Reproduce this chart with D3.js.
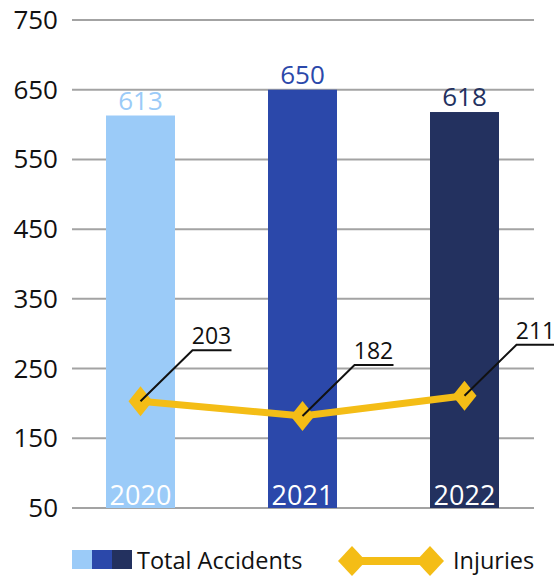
<!DOCTYPE html>
<html>
<head>
<meta charset="utf-8">
<script src="https://cdn.jsdelivr.net/npm/d3@7"></script>
<style>
  body { margin: 0; background: #fff; }
  text { font-family: "Open Sans", "Noto Sans", sans-serif; }
</style>
</head>
<body>
<script>
const width  = 554;
const height = 577;

const years     = ['2020', '2021', '2022'];
const accidents = [613, 650, 618];
const injuries  = [203, 182, 211];
const yTicks    = [50, 150, 250, 350, 450, 550, 650, 750];
const barColors = ['#9bcbf8', '#2b48aa', '#23315f'];
const gold      = '#f4bd16';

const svg = d3.select('body').append('svg')
  .attr('width', width)
  .attr('height', height);

const x = d3.scaleBand().domain(years).range([59.5, 545.5]);
const y = d3.scaleLinear().domain([50, 750]).range([508, 20]);
const barW = 69;

// grid
svg.append('g').selectAll('line')
  .data(yTicks)
  .enter().append('line')
  .attr('x1', 72).attr('x2', 534)
  .attr('y1', d => y(d)).attr('y2', d => y(d))
  .attr('stroke', '#a3a3a3').attr('stroke-width', 2);

svg.append('g').selectAll('text')
  .data(yTicks)
  .enter().append('text')
  .attr('x', 58).attr('y', d => y(d) + 9)
  .attr('text-anchor', 'end')
  .style('font-size', '26px')
  .attr('fill', '#111')
  .text(d => d);

// bars
const cx = d => x(d) + x.bandwidth() / 2;

svg.append('g').selectAll('rect')
  .data(years)
  .enter().append('rect')
  .attr('x', d => cx(d) - barW / 2)
  .attr('width', barW)
  .attr('y', (d, i) => y(accidents[i]))
  .attr('height', (d, i) => y(50) - y(accidents[i]))
  .attr('fill', (d, i) => barColors[i]);

svg.append('g').selectAll('text')
  .data(years)
  .enter().append('text')
  .attr('x', d => cx(d))
  .attr('y', (d, i) => y(accidents[i]) - 6)
  .attr('text-anchor', 'middle')
  .style('font-size', '26px')
  .attr('fill', (d, i) => barColors[i])
  .text((d, i) => accidents[i]);

svg.append('g').selectAll('text')
  .data(years)
  .enter().append('text')
  .attr('x', d => cx(d))
  .attr('y', 505)
  .attr('text-anchor', 'middle')
  .style('font-size', '27px')
  .attr('fill', '#fff')
  .text(d => d);

// injuries line
const line = d3.line()
  .x((d, i) => cx(years[i]))
  .y(d => y(d));

svg.append('path')
  .datum(injuries)
  .attr('d', line)
  .attr('fill', 'none')
  .attr('stroke', gold)
  .attr('stroke-width', 7);

const diamond = (px, py, hw, hh) =>
  `M${px},${py - hh}L${px + hw},${py}L${px},${py + hh}L${px - hw},${py}Z`;

svg.append('g').selectAll('path')
  .data(injuries)
  .enter().append('path')
  .attr('d', (d, i) => diamond(cx(years[i]), y(d), 12, 15))
  .attr('fill', gold);

// leader lines + labels
const lead = svg.append('g').selectAll('g')
  .data(injuries)
  .enter().append('g');

lead.append('path')
  .attr('d', (d, i) => {
    const px = cx(years[i]), py = y(d);
    return `M${px},${py}L${px + 52},${py - 51}L${px + 91},${py - 51}`;
  })
  .attr('fill', 'none')
  .attr('stroke', '#111')
  .attr('stroke-width', 2);

lead.append('text')
  .attr('x', (d, i) => cx(years[i]) + 71)
  .attr('y', d => y(d) - 57)
  .attr('text-anchor', 'middle')
  .style('font-size', '23px')
  .attr('fill', '#111')
  .text(d => d);

// legend
const leg = svg.append('g');
leg.selectAll('rect')
  .data(barColors)
  .enter().append('rect')
  .attr('x', (d, i) => 72 + i * 20)
  .attr('y', 550)
  .attr('width', 20)
  .attr('height', 19)
  .attr('fill', d => d);

leg.append('text')
  .attr('x', 137).attr('y', 569)
  .style('font-size', '23.5px')
  .attr('fill', '#111')
  .text('Total Accidents');

leg.append('line')
  .attr('x1', 352).attr('x2', 430)
  .attr('y1', 561).attr('y2', 561)
  .attr('stroke', gold).attr('stroke-width', 8);

leg.selectAll('path')
  .data([352, 430])
  .enter().append('path')
  .attr('d', d => diamond(d, 561, 14, 15))
  .attr('fill', gold);

leg.append('text')
  .attr('x', 453).attr('y', 569)
  .style('font-size', '23.5px')
  .attr('fill', '#111')
  .text('Injuries');
</script>
</body>
</html>
